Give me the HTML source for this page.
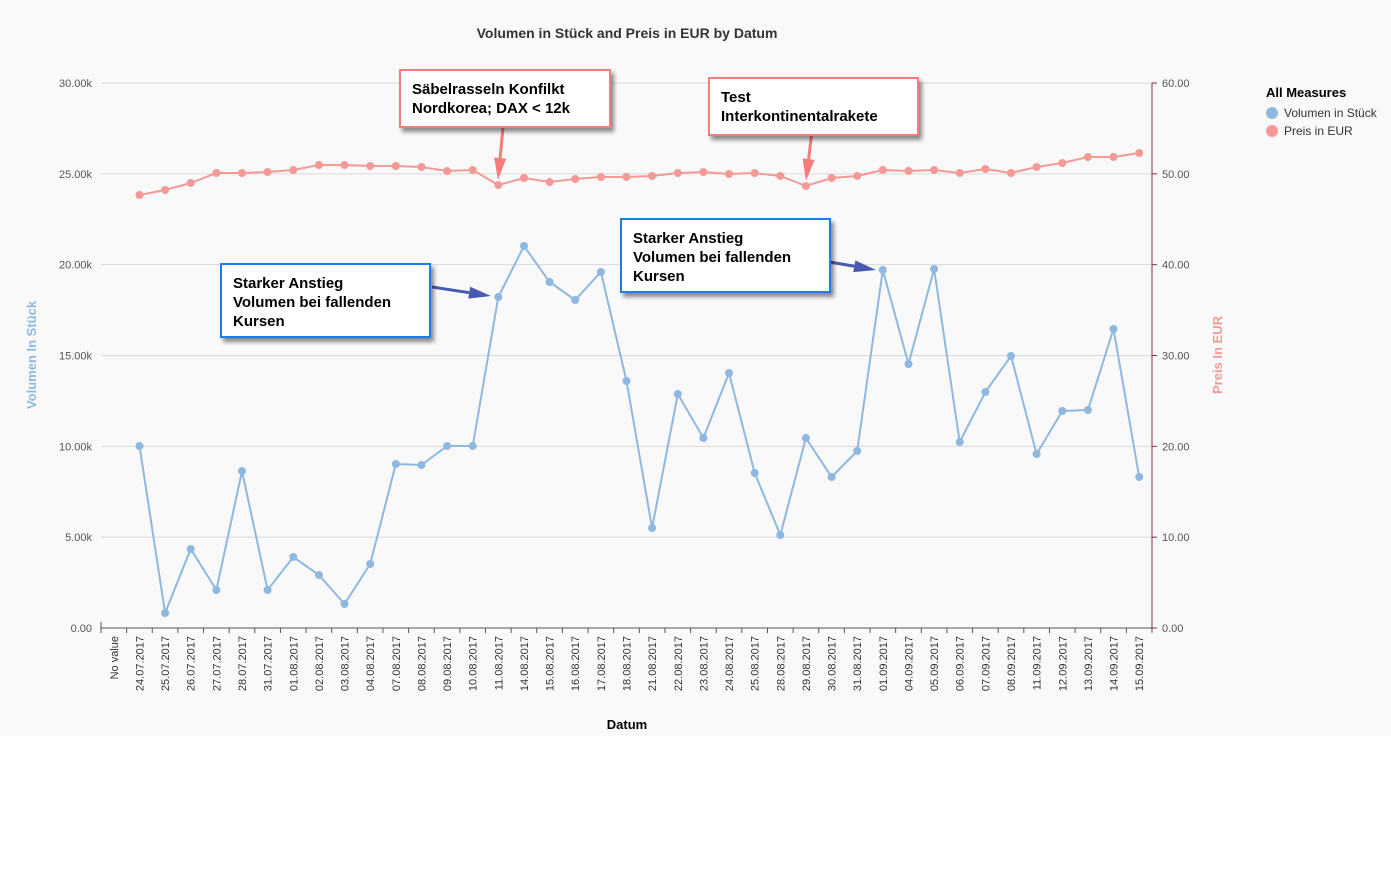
<!DOCTYPE html>
<html><head><meta charset="utf-8"><style>
body{margin:0;width:1391px;height:864px;background:#fff;font-family:"Liberation Sans",Arial,sans-serif;overflow:hidden}
</style></head><body>
<svg id="s" width="1391" height="864" xmlns="http://www.w3.org/2000/svg" font-family="Liberation Sans, Arial, sans-serif">
<defs><filter id="sh" x="-10%" y="-10%" width="130%" height="140%"><feDropShadow dx="3" dy="4" stdDeviation="2" flood-color="#000" flood-opacity="0.45"/></filter></defs>
<rect x="0" y="0" width="1391" height="736" fill="#f9f9f9"/>
<text x="627" y="38" text-anchor="middle" font-size="14" font-weight="bold" fill="#333">Volumen in Stück and Preis in EUR by Datum</text>
<g id="g"></g>
<text x="36" y="355" transform="rotate(-90 36 355)" text-anchor="middle" font-size="13" font-weight="bold" fill="#8fb8e0">Volumen In Stück</text>
<text x="1222" y="355" transform="rotate(-90 1222 355)" text-anchor="middle" font-size="13" font-weight="bold" fill="#f39a96">Preis In EUR</text>
<text x="627" y="729" text-anchor="middle" font-size="13" font-weight="bold" fill="#000">Datum</text>
<text x="1266" y="97" font-size="13" font-weight="bold" fill="#000">All Measures</text>
<circle cx="1272" cy="113" r="6" fill="#8fb8e0"/><text x="1284" y="117" font-size="12" fill="#333">Volumen in Stück</text>
<circle cx="1272" cy="131" r="6" fill="#f39a96"/><text x="1284" y="135" font-size="12" fill="#333">Preis in EUR</text>
</svg>
<script>
var g=document.getElementById('g'),h='';
var labs=["No value","24.07.2017","25.07.2017","26.07.2017","27.07.2017","28.07.2017","31.07.2017","01.08.2017","02.08.2017","03.08.2017","04.08.2017","07.08.2017","08.08.2017","09.08.2017","10.08.2017","11.08.2017","14.08.2017","15.08.2017","16.08.2017","17.08.2017","18.08.2017","21.08.2017","22.08.2017","23.08.2017","24.08.2017","25.08.2017","28.08.2017","29.08.2017","30.08.2017","31.08.2017","01.09.2017","04.09.2017","05.09.2017","06.09.2017","07.09.2017","08.09.2017","11.09.2017","12.09.2017","13.09.2017","14.09.2017","15.09.2017"];
var vol=[null,446,613,549,590,471,590,557,575,604,564,464,465,446,446,297,246,282,300,272,381,528,394,438,373,473,535,438,477,451,270,364,269,442,392,356,454,411,410,329,477];
var pr=[null,195,190,183,173,173,172,170,165,165,166,166,167,171,170,185,178,182,179,177,177,176,173,172,174,173,176,186,178,176,170,171,170,173,169,173,167,163,157,157,153];
var W=1051/41;function X(i){return 101+W*(i+0.5);}
var ll=["0.00","5.00k","10.00k","15.00k","20.00k","25.00k","30.00k"],rl=["0.00","10.00","20.00","30.00","40.00","50.00","60.00"];
for(var k=0;k<7;k++){var y=628-k*90.83;
if(k>0)h+='<line x1="101" x2="1152" y1="'+y+'" y2="'+y+'" stroke="#d9d9d9"/>';
h+='<text x="92" y="'+(y+4)+'" text-anchor="end" font-size="11" fill="#555">'+ll[k]+'</text>';
h+='<text x="1162" y="'+(y+4)+'" font-size="11" fill="#555">'+rl[k]+'</text>';
h+='<line x1="1152" x2="1157" y1="'+y+'" y2="'+y+'" stroke="#8a2a5a"/>';}
h+='<line x1="101" x2="1152" y1="628" y2="628" stroke="#555"/><line x1="101" x2="101" y1="622" y2="628" stroke="#555"/><line x1="1152" x2="1152" y1="83" y2="628" stroke="#8a2a5a"/>';
for(var i=0;i<=41;i++){var x=101+W*i;h+='<line x1="'+x+'" x2="'+x+'" y1="628" y2="633" stroke="#555"/>';}
for(var i=0;i<41;i++){var x=X(i)+4;h+='<text x="'+x+'" y="636" transform="rotate(-90 '+x+' 636)" text-anchor="end" font-size="11" fill="#333">'+labs[i]+'</text>';}
function series(d,c){var p='';for(var i=1;i<41;i++)p+=(i==1?'M':'L')+X(i).toFixed(1)+' '+d[i]+' ';
var s='<path d="'+p+'" fill="none" stroke="'+c+'" stroke-width="2"/>';
for(var i=1;i<41;i++)s+='<circle cx="'+X(i).toFixed(1)+'" cy="'+d[i]+'" r="4" fill="'+c+'"/>';return s;}
h+=series(vol,'#8fb8e0');h+=series(pr,'#f39a96');
function box(x,y,w,hh,c,lines){var s='<rect x="'+x+'" y="'+y+'" width="'+w+'" height="'+hh+'" fill="#fff" stroke="'+c+'" stroke-width="2" filter="url(#sh)"/>';
lines.forEach(function(t,j){s+='<text x="'+(x+12)+'" y="'+(y+24+j*19)+'" font-size="15" font-weight="bold" fill="#000">'+t+'</text>';});return s;}
function arrow(x1,y1,x2,y2,c){var a=Math.atan2(y2-y1,x2-x1),L=22,wd=6;
var bx=x2-L*Math.cos(a),by=y2-L*Math.sin(a),px=-Math.sin(a)*wd,py=Math.cos(a)*wd;
return '<g><line x1="'+x1+'" y1="'+y1+'" x2="'+bx+'" y2="'+by+'" stroke="'+c+'" stroke-width="3"/><polygon points="'+x2+','+y2+' '+(bx+px)+','+(by+py)+' '+(bx-px)+','+(by-py)+'" fill="'+c+'"/></g>';}
h+=arrow(503,128,498,180,'#f47c7c');h+=arrow(812,131,806,181,'#f47c7c');
h+=arrow(432,287,491,296,'#4a5ab0');h+=arrow(830,262,876,270,'#4a5ab0');
h+=box(400,70,210,57,'#f47c7c',['Säbelrasseln Konfilkt','Nordkorea; DAX &lt; 12k']);
h+=box(709,78,209,57,'#f47c7c',['Test','Interkontinentalrakete']);
h+=box(221,264,209,73,'#1a7de8',['Starker Anstieg','Volumen bei fallenden','Kursen']);
h+=box(621,219,209,73,'#1a7de8',['Starker Anstieg','Volumen bei fallenden','Kursen']);
g.innerHTML=h;
</script>
</body></html>
